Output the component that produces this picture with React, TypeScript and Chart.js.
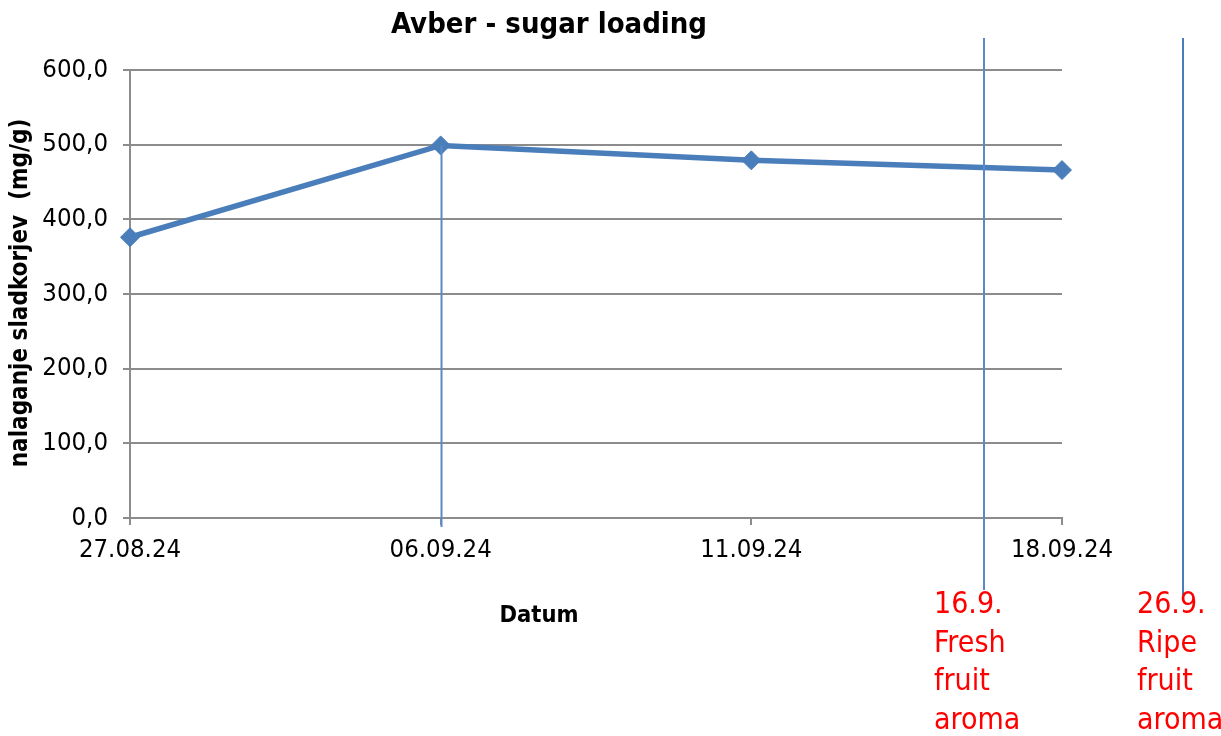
import React, { useEffect, useRef } from "react";
import { Chart, registerables } from "chart.js";

Chart.register(...registerables);

const categories = ["27.08.24", "06.09.24", "11.09.24", "18.09.24"];
const sugarValues = [376, 499, 479, 466];
const yMin = 0;
const yMax = 600;
const yStep = 100;

const chartTitle = "Avber - sugar loading";
const yTitle = "nalaganje sladkorjev  (mg/g)";
const xTitle = "Datum";

// Annotation markers (category-index positions on the x scale)
const dropLineIndex = 1; // vertical line from the 06.09.24 point
const aromaIndex = [2.75, 3.39];
const aromaLabels = [
  ["16.9.", "Fresh", "fruit", "aroma"],
  ["26.9.", "Ripe", "fruit", "aroma"],
];

const FONT = "'DejaVu Sans Condensed', 'DejaVu Sans', sans-serif";
const BLUE = "#4a7ebb";
const GRID = "#8c8c8c";

const W = 1221;
const H = 736;

const annotationsPlugin = {
  id: "annotations",
  afterDatasetsDraw(chart: any) {
    const { ctx, scales } = chart;
    const xs = scales.x;
    const ys = scales.y;
    ctx.save();
    // drop line at 06.09.24
    const dx = Math.round(xs.getPixelForValue(dropLineIndex)) + 0.5;
    ctx.strokeStyle = "#5a8ac6";
    ctx.lineWidth = 2;
    ctx.beginPath();
    ctx.moveTo(dx, ys.getPixelForValue(sugarValues[dropLineIndex]));
    ctx.lineTo(dx, ys.bottom + 9);
    ctx.stroke();

    // aroma lines + labels
    const lineBottoms = [590, 595];
    aromaIndex.forEach((idx, i) => {
      const px = Math.round(xs.getPixelForValue(idx));
      ctx.strokeStyle = i === 0 ? "#5a8ac6" : BLUE;
      ctx.lineWidth = 2;
      ctx.beginPath();
      ctx.moveTo(px, 38);
      ctx.lineTo(px, lineBottoms[i]);
      ctx.stroke();

      ctx.fillStyle = "#ff0000";
      ctx.font = `30px ${FONT}`;
      ctx.textAlign = "left";
      ctx.textBaseline = "alphabetic";
      const tx = px - (i === 0 ? 50 : 46);
      aromaLabels[i].forEach((t, j) => {
        ctx.fillText(t, tx, 613 + j * 38.5);
      });
    });

    // titles
    ctx.fillStyle = "#000";
    ctx.textAlign = "center";
    ctx.textBaseline = "middle";
    ctx.font = `bold 29px ${FONT}`;
    ctx.fillText(chartTitle, 549, 25);
    ctx.font = `bold 23.5px ${FONT}`;
    ctx.fillText(xTitle, 539, 616);
    ctx.save();
    ctx.translate(21, 293);
    ctx.rotate(-Math.PI / 2);
    ctx.font = `bold 24px ${FONT}`;
    ctx.fillText(yTitle, 0, 0);
    ctx.restore();
    ctx.restore();
  },
};

export default function App() {
  const ref = useRef<HTMLCanvasElement>(null);
  useEffect(() => {
    if (!ref.current) return;
    const chart = new Chart(ref.current, {
      type: "line",
      data: {
        labels: categories,
        datasets: [
          {
            data: sugarValues,
            borderColor: BLUE,
            backgroundColor: BLUE,
            borderWidth: 5.5,
            pointStyle: "rectRot",
            pointRadius: 9.5,
            pointBorderWidth: 1,
            pointBorderColor: BLUE,
            pointBackgroundColor: BLUE,
            tension: 0,
          },
        ],
      },
      options: {
        responsive: false,
        animation: false,
        layout: { padding: { top: 70, right: 159, left: 0, bottom: 0 } },
        plugins: {
          legend: { display: false },
          title: { display: false },
          tooltip: { enabled: false },
        },
        scales: {
          x: {
            offset: false,
            afterFit: (s: any) => {
              s.height = H - 518;
            },
            grid: {
              drawOnChartArea: false,
              drawTicks: true,
              tickLength: 7,
              color: GRID,
              lineWidth: 2,
            },
            border: { color: GRID, width: 2 },
            ticks: {
              color: "#000",
              font: { family: FONT, size: 25.5 },
              padding: 10,
              maxRotation: 0,
              autoSkip: false,
            },
          },
          y: {
            min: yMin,
            max: yMax,
            afterFit: (s: any) => {
              s.width = 130;
            },
            grid: {
              color: GRID,
              lineWidth: 2,
              tickLength: 7,
            },
            border: { color: GRID, width: 2 },
            ticks: {
              stepSize: yStep,
              color: "#000",
              font: { family: FONT, size: 25.5 },
              padding: 15,
              callback: (v: any) => Number(v).toFixed(1).replace(".", ","),
            },
          },
        },
      },
      plugins: [annotationsPlugin],
    });
    return () => chart.destroy();
  }, []);
  return (
    <div
      style={{
        position: "fixed",
        left: 0,
        top: 0,
        width: W,
        height: H,
        background: "#fff",
      }}
    >
      <canvas ref={ref} width={W} height={H} style={{ width: W, height: H }} />
    </div>
  );
}
